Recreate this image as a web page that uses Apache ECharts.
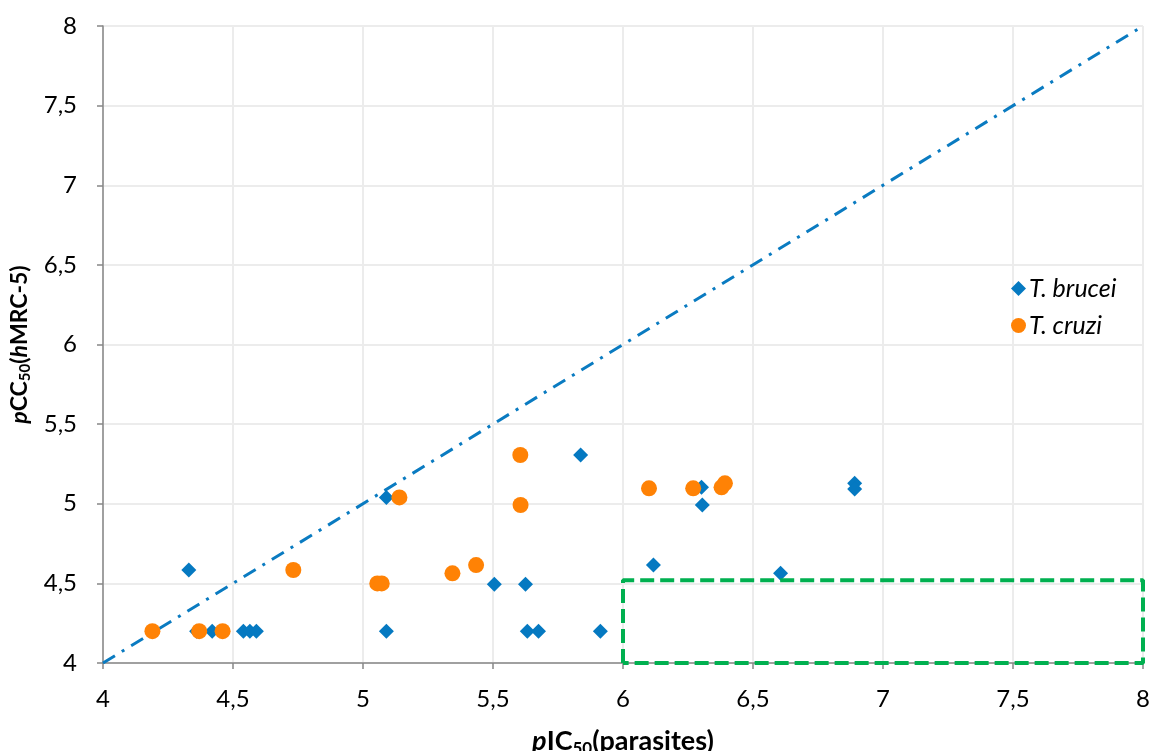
<!DOCTYPE html>
<html><head><meta charset="utf-8">
<script src="https://cdn.jsdelivr.net/npm/echarts@6/dist/echarts.min.js"></script>
<style>html,body{margin:0;padding:0;background:#fff}#c{width:1154px;height:751px}</style>
</head><body><div id="c"></div>
<script>
const bruceiX = [4.33, 4.36, 4.42, 4.54, 4.565, 4.59, 5.09, 5.09, 5.505, 5.625, 5.632, 5.675, 5.837, 5.913, 6.117, 6.302, 6.305, 6.606, 6.891, 6.891];
const bruceiY = [4.584, 4.2, 4.2, 4.2, 4.2, 4.2, 5.04, 4.2, 4.494, 4.494, 4.2, 4.2, 5.306, 4.2, 4.615, 5.103, 4.992, 4.563, 5.128, 5.093];
const cruziX = [4.19, 4.37, 4.46, 4.732, 5.055, 5.072, 5.14, 5.344, 5.435, 5.605, 5.606, 6.1, 6.27, 6.379, 6.392];
const cruziY = [4.2, 4.2, 4.2, 4.584, 4.5, 4.5, 5.04, 4.563, 4.615, 5.306, 4.992, 5.097, 5.097, 5.103, 5.128];
const diagX = [4, 8];
const diagY = [4, 8];
const boxX = [6, 6, 8, 8, 6];
const boxY = [4, 4.52, 4.52, 4, 4];
const seriesNames = ['T. brucei', 'T. cruzi'];

const zip = (a, b) => a.map((v, i) => [v, b[i]]);
const FONT = 'Lato, "Open Sans", sans-serif';
const fmt = v => String(v).replace('.', ',');

const chart = echarts.init(document.getElementById('c'), null, {renderer: 'canvas'});
chart.setOption({
  animation: false,
  backgroundColor: '#ffffff',
  grid: {left: 103, right: 11, top: 26, bottom: 88, containLabel: false, outerBoundsMode: 'none'},
  legend: {
    orient: 'vertical', left: 1006, top: 271, itemGap: 12,
    itemWidth: 15, itemHeight: 15,
    data: [{name: seriesNames[0], icon: 'diamond'}, {name: seriesNames[1], icon: 'circle'}],
    textStyle: {fontFamily: FONT, fontStyle: 'italic', fontSize: 25, color: '#000', padding: [0, 0, 0, -2]}
  },
  xAxis: {
    type: 'value', min: 4, max: 8, interval: 0.5,
    axisLine: {lineStyle: {color: '#878787', width: 1.5}},
    axisTick: {show: true, length: 6, lineStyle: {color: '#878787', width: 1.5}},
    splitLine: {show: true, lineStyle: {color: '#ececec', width: 2}},
    axisLabel: {formatter: fmt, fontFamily: FONT, fontSize: 24, color: '#000', margin: 24},
    name: '{i|p}{b|IC}{s|50}{b|(parasites)}',
    nameLocation: 'middle', nameGap: 63,
    nameTextStyle: {
      rich: {
        i: {fontFamily: FONT, fontSize: 27, fontWeight: 'bold', fontStyle: 'italic', color: '#000'},
        b: {fontFamily: FONT, fontSize: 27, fontWeight: 'bold', color: '#000'},
        s: {fontFamily: FONT, fontSize: 17, fontWeight: 'bold', color: '#000', padding: [14, 0, 0, 0]}
      }
    }
  },
  yAxis: {
    type: 'value', min: 4, max: 8, interval: 0.5,
    axisLine: {show: true, lineStyle: {color: '#878787', width: 1.5}},
    axisTick: {show: true, length: 6, lineStyle: {color: '#878787', width: 1.5}},
    splitLine: {show: true, lineStyle: {color: '#ececec', width: 2}},
    axisLabel: {formatter: fmt, fontFamily: FONT, fontSize: 24, color: '#000', margin: 26},
    name: '{i|p}{b|CC}{s|50}{b|(}{i|h}{b|MRC-5)}',
    nameLocation: 'middle', nameGap: 60, nameRotate: 90,
    nameTextStyle: {
      rich: {
        i: {fontFamily: FONT, fontSize: 23, fontWeight: 'bold', fontStyle: 'italic', color: '#000'},
        b: {fontFamily: FONT, fontSize: 23, fontWeight: 'bold', color: '#000'},
        s: {fontFamily: FONT, fontSize: 15, fontWeight: 'bold', color: '#000', padding: [11, 0, 0, 0]}
      }
    }
  },
  series: [
    {
      name: 'diag', type: 'line', data: zip(diagX, diagY), symbol: 'none', silent: true,
      lineStyle: {color: '#0a7bc1', width: 3, type: [14, 8, 3, 8]}, z: 1
    },
    {
      name: seriesNames[0], type: 'scatter', data: zip(bruceiX, bruceiY),
      symbol: 'diamond', symbolSize: 15, itemStyle: {color: '#0579c1', opacity: 1}, z: 2
    },
    {
      name: seriesNames[1], type: 'scatter', data: zip(cruziX, cruziY),
      symbol: 'circle', symbolSize: 16, itemStyle: {color: '#ff8205', opacity: 1}, z: 3
    },
    {
      name: 'box', type: 'line', data: zip(boxX, boxY), symbol: 'none', silent: true,
      lineStyle: {color: '#00b050', width: 4, type: [14, 6]}, z: 4
    }
  ]
});
</script>
</body></html>
